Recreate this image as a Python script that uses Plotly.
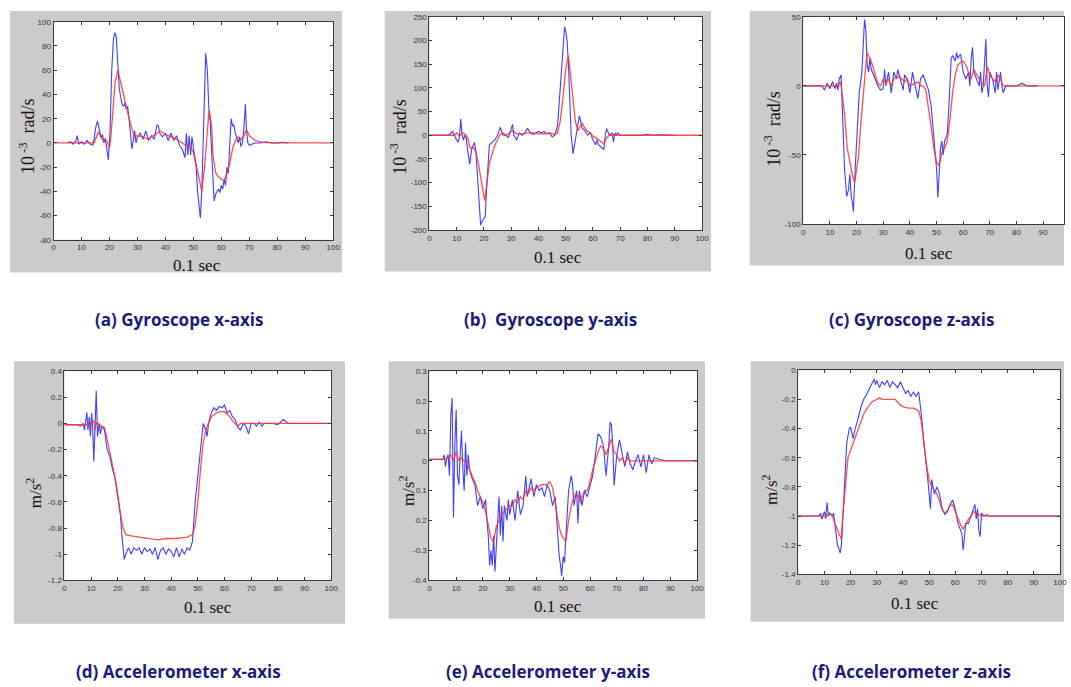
import plotly.graph_objects as go

# ---------------- data ----------------
x_ticks = [0, 10, 20, 30, 40, 50, 60, 70, 80, 90, 100]
x_ticktext = ["0", "10", "20", "30", "40", "50", "60", "70", "80", "90", "100"]

# (a) Gyroscope x-axis
gyro_x_raw = [(5,0),(6,1),(7,-1),(8,2),(8.5,6),(9,-1),(10,1),(11,-1),(12,2),(13,-1),(14,-2),(14.5,3),(15,12),(15.7,18),(16.5,10),(17,4),(17.5,7),(18,0),(18.5,4),(19,-4),(19.6,-14),(20.2,10),(20.8,60),(21.4,85),(21.9,91),(22.4,88),(23,60),(23.5,45),(24,38),(24.5,32),(25,30),(25.5,33),(26,28),(26.5,30),(27,20),(27.5,10),(28,-5),(28.5,2),(29,10),(29.5,0),(30,5),(31,8),(32,3),(33,10),(34,2),(35,6),(36,3),(37,15),(37.5,14),(38,8),(39,5),(40,8),(41,2),(42,8),(43,2),(44,6),(45,-2),(46,-5),(47,-12),(47.5,8),(48,-10),(48.5,6),(49,-10),(49.5,5),(50,-5),(50.5,-12),(51,-20),(51.5,-40),(52,-55),(52.5,-62),(53,-40),(53.5,0),(54,40),(54.4,74),(55,60),(55.5,30),(56,18),(56.5,-10),(57,-30),(57.4,-48),(58,-42),(59,-38),(59.5,-41),(60,-35),(60.5,-38),(61,-30),(61.5,-35),(62,-20),(62.5,-25),(63,0),(63.5,20),(64,14),(64.5,15),(65,8),(65.5,4),(66,0),(66.5,5),(67,-3),(67.5,0),(68,10),(68.6,32),(69,10),(69.5,0),(70,-2),(72,0),(74,0),(76,1),(78,0),(80,0),(82,0.5),(84,0)]
gyro_x_filt = [(0,0),(14.5,0),(15,3),(16,9),(17,5),(18,1),(19,2),(20,-4),(20.5,5),(21,20),(22,50),(23,60),(24,50),(25,38),(26,30),(27,20),(28,12),(29,5),(30,6),(32,5),(34,3),(35,5),(37,8),(38,10),(40,7),(42,5),(44,3),(46,0),(48,-3),(49,-3),(50,-8),(51,-18),(52,-30),(53,-40),(54,-20),(55,15),(55.6,27),(56.5,15),(57,-10),(58,-25),(59,-28),(60,-30),(61,-31),(62,-25),(63,-17),(64,-5),(65,2),(66,5),(67,3),(68,5),(69,11),(70,6),(72,2),(75,0.5),(78,0),(100,0)]
gyro_x_yticks = [-80, -60, -40, -20, 0, 20, 40, 60, 80, 100]
gyro_x_yticktext = ["-80", "-60", "-40", "-20", "0", "20", "40", "60", "80", "100"]

# (b) Gyroscope y-axis
gyro_y_raw = [(0,0),(7,0),(8,5),(8.5,9),(9.5,-5),(10.5,-15),(11,-5),(11.5,34),(12,0),(12.5,-10),(13,0),(13.5,-5),(14,-30),(14.8,-61),(15.5,-30),(16,-20),(16.5,-15),(17,-30),(17.5,-80),(18.2,-150),(18.8,-190),(19.5,-180),(20.5,-171),(21,-110),(21.5,-50),(22,-20),(23,-15),(24,-10),(25,0),(26,17),(27,0),(28,0),(29,-5),(30,15),(30.5,23),(31,0),(32,-10),(33,5),(34,0),(35,5),(36,15),(37,5),(38,2),(39,5),(40,8),(41,5),(42,8),(43,3),(44,5),(45,-3),(46,0),(47,20),(48,100),(49,170),(49.6,229),(50,220),(50.5,200),(51,150),(51.5,60),(52,0),(52.7,-39),(53.3,-20),(54,5),(55,41),(55.5,30),(56,15),(57,10),(58,0),(59,5),(60,-10),(61,-20),(61.5,-10),(62,-20),(63,-25),(64,-30),(64.5,0),(65,14),(66,0),(67,5),(67.5,-14),(68,5),(68.5,0),(69,5),(70,0),(72,0),(75,1),(78,0),(80,2),(82,0),(85,1),(88,0),(90,0)]
gyro_y_filt = [(0,0),(9,0),(10,5),(11,-2),(12,5),(13,3),(14,-5),(15,-27),(16,-25),(17,-35),(18,-60),(19,-100),(20,-130),(20.3,-138),(21,-100),(22,-60),(23,-40),(24,-20),(25,-10),(26,2),(27,5),(28,0),(29,3),(30.5,10),(32,3),(34,3),(36,5),(38,5),(40,3),(42,3),(44,5),(46,2),(47,5),(48,30),(49,80),(50,140),(51,168),(51.5,140),(52.5,80),(53.5,30),(54.5,10),(55.5,20),(56,26),(57,15),(58,8),(59,5),(60,-2),(61,-5),(62,-10),(63,-15),(64,-18),(65,-5),(66,0),(68,0),(100,0)]
gyro_y_yticks = [-200, -150, -100, -50, 0, 50, 100, 150, 200, 250]
gyro_y_yticktext = ["-200", "-150", "-100", "-50", "0", "50", "100", "150", "200", "250"]

# (c) Gyroscope z-axis
gyro_z_raw = [(0,0),(7,0),(8,-3),(9,2),(10,-2),(11,3),(12,-2),(12.5,2),(13,-3),(13.5,5),(14.2,8),(15,-30),(15.5,-60),(16.3,-80),(17,-75),(17.5,-64),(18,-80),(18.5,-85),(18.8,-91),(19.5,-60),(20,-40),(20.5,-20),(21,-5),(22,10),(22.5,25),(23,48),(23.5,40),(24,15),(24.5,10),(25,20),(25.5,12),(26,10),(27,5),(28,0),(29,-3),(30,-2),(30.5,12),(31,0),(32,10),(33,-5),(34,10),(35,5),(35.5,12),(36,8),(37,0),(37.5,-3),(38,8),(39,5),(40,-5),(40.5,5),(41,10),(42,0),(43,-9),(44,5),(45,8),(45.5,5),(46,2),(47,-3),(48,-15),(49,-35),(50,-60),(50.5,-81),(51,-60),(51.5,-45),(52,-40),(52.5,-50),(53,-40),(54,-35),(54.5,-20),(55,0),(55.5,20),(56,22),(57,18),(57.5,24),(58,20),(59,23),(59.5,15),(60,10),(61,5),(62,10),(62.5,0),(63,20),(63.5,28),(64,10),(65,5),(66,0),(66.5,10),(67,-5),(67.5,0),(68,20),(68.5,34),(69,0),(69.5,-8),(70,10),(71,5),(72,-5),(72.5,10),(73,-3),(74,10),(74.5,0),(75,-5),(76,0),(80,0),(82,2),(84,0),(88,0)]
gyro_z_filt = [(0,0),(13,0),(14,3),(15.5,-20),(16.5,-45),(17.5,-55),(18.5,-65),(19.3,-70),(20,-60),(20.8,-50),(21.5,-30),(22.5,-5),(23.3,15),(23.9,24),(25,20),(26,15),(27,8),(28,2),(29,0),(30,5),(31,2),(32,5),(33,0),(34,5),(36,7),(37,5),(38,3),(39,5),(40,0),(42,2),(43,3),(44,0),(45,0),(46,-3),(47,-15),(48,-30),(49,-45),(50,-55),(51,-58),(52,-48),(53,-45),(54,-40),(55,-25),(56,-5),(57,8),(58,15),(59,17),(60,18),(61,15),(62,10),(63,5),(64,12),(65,8),(66,5),(67,2),(68,0),(69,14),(70,8),(71,5),(72,3),(73,8),(74,5),(75,0),(100,0)]
gyro_z_yticks = [-100, -50, 0, 50]
gyro_z_yticktext = ["-100", "-50", "0", "50"]

# (d) Accelerometer x-axis
acc_x_raw = [(0,-0.01),(5,-0.01),(6,-0.02),(7,0),(7.5,-0.05),(8.4,0.085),(8.8,-0.05),(9.3,0.05),(9.7,-0.1),(10.2,0.08),(10.6,-0.05),(11,-0.29),(11.5,0),(11.9,0.25),(12.4,-0.1),(13,0),(13.5,-0.08),(14,-0.02),(15,-0.05),(16,-0.2),(17,-0.25),(18,-0.35),(19,-0.42),(20,-0.55),(21,-0.7),(21.5,-0.85),(22,-1.0),(22.4,-1.04),(23,-1.0),(24,-0.95),(25,-1.0),(26,-0.95),(27,-0.97),(28,-0.95),(29,-1.0),(30,-0.95),(31,-0.98),(32,-0.96),(33,-1.0),(34,-0.95),(35,-1.04),(36,-0.97),(37,-0.95),(38,-1.0),(39,-0.96),(40,-0.98),(41,-1.02),(42,-0.95),(43,-1.02),(44,-0.96),(45,-1.0),(46,-0.95),(47,-0.97),(48,-0.9),(49,-0.6),(50,-0.4),(51,-0.2),(52,0),(53,-0.05),(53.5,-0.1),(54,0),(55,0.08),(56,0.12),(57,0.1),(58,0.13),(59,0.12),(60,0.14),(61,0.08),(62,0.1),(63,0.05),(64,0.03),(65,-0.03),(66,-0.05),(67,0),(68,-0.02),(69,-0.08),(70,0),(71,0),(72,-0.02),(73,0.01),(74,-0.02),(75,0),(78,0),(80,-0.01),(82,0.03),(84,0),(88,0),(100,0)]
acc_x_filt = [(0,-0.01),(9,-0.01),(10,0.01),(11,0.02),(11.5,-0.05),(12,0.01),(13,-0.01),(14,-0.02),(15,-0.03),(16,-0.12),(17,-0.22),(18,-0.3),(19,-0.42),(20,-0.55),(21,-0.7),(22,-0.8),(23,-0.85),(25,-0.86),(28,-0.87),(32,-0.88),(35,-0.89),(38,-0.88),(42,-0.88),(46,-0.87),(48,-0.85),(49,-0.78),(50,-0.6),(51,-0.35),(52,-0.15),(53,-0.05),(54,0),(55,0.05),(57,0.08),(58,0.09),(60,0.09),(61,0.07),(62,0.05),(63,0.02),(64,0),(65,-0.02),(66,0),(68,0),(100,0)]
acc_x_yticks = [-1.2, -1.0, -0.8, -0.6, -0.4, -0.2, 0, 0.2, 0.4]
acc_x_yticktext = ["-1.2", "-1", "-0.8", "-0.6", "-0.4", "-0.2", "0", "0.2", "0.4"]

# (e) Accelerometer y-axis
acc_y_raw = [(0,0.005),(5,0.005),(5.5,0.02),(6,-0.02),(6.5,0.01),(7,0.02),(7.5,-0.05),(8,0.15),(8.5,0.21),(9,-0.19),(9.5,0.05),(10,0.17),(10.5,-0.05),(11,-0.08),(11.5,0.02),(12,0.1),(12.5,-0.03),(13,-0.1),(13.5,0.06),(14,-0.05),(14.5,0.02),(15,-0.03),(16,-0.06),(17,-0.08),(18,-0.15),(19,-0.12),(20,-0.16),(21,-0.13),(21.5,-0.2),(22,-0.25),(22.5,-0.35),(23,-0.3),(23.5,-0.35),(24,-0.25),(24.5,-0.37),(25,-0.28),(25.5,-0.2),(26,-0.12),(26.5,-0.25),(27,-0.15),(27.5,-0.27),(28,-0.15),(29,-0.2),(29.5,-0.13),(30,-0.18),(31,-0.13),(32,-0.2),(33,-0.1),(34,-0.18),(35,-0.15),(36,-0.05),(36.5,-0.12),(37,-0.1),(38,-0.06),(39,-0.12),(40,-0.08),(41,-0.1),(42,-0.09),(43,-0.12),(44,-0.08),(45,-0.1),(46,-0.15),(47,-0.12),(47.5,-0.2),(48,-0.28),(48.5,-0.32),(49,-0.35),(49.4,-0.385),(50,-0.32),(50.5,-0.34),(51,-0.25),(51.5,-0.18),(52,-0.1),(53,-0.05),(53.5,-0.08),(54,-0.15),(55,-0.1),(55.5,-0.21),(56,-0.1),(57,-0.15),(58,-0.1),(59,-0.12),(60,-0.08),(61,-0.05),(62,0.02),(62.5,0.06),(63,0.09),(64,0.08),(65,0.05),(65.5,0.0),(66,-0.05),(67,0.05),(67.5,0.13),(68,0.12),(68.5,0.05),(69,-0.083),(70,0.02),(71,0.07),(72,0.03),(73,-0.02),(74,0.03),(75,-0.01),(76,-0.03),(77,0),(78,0.02),(79,-0.02),(80,0.02),(81,-0.04),(82,0.02),(83,-0.01),(84,0.01),(88,0),(100,0)]
acc_y_filt = [(0,0.005),(6,0.005),(8,0.02),(9,0.0),(10,0.03),(11,0),(12,0.01),(13,0.0),(14,-0.01),(15,-0.03),(16,-0.05),(17,-0.07),(18,-0.1),(19,-0.12),(20,-0.14),(21,-0.17),(22,-0.22),(23,-0.26),(24,-0.272),(25,-0.22),(26,-0.2),(27,-0.18),(28,-0.17),(29,-0.16),(30,-0.15),(31,-0.15),(32,-0.13),(33,-0.14),(34,-0.12),(35,-0.13),(36,-0.1),(37,-0.11),(38,-0.09),(39,-0.1),(40,-0.09),(42,-0.08),(44,-0.08),(45,-0.07),(46,-0.09),(47,-0.14),(48,-0.2),(49,-0.24),(50,-0.26),(51,-0.27),(52,-0.2),(53,-0.15),(54,-0.12),(55,-0.11),(56,-0.13),(56.5,-0.14),(57,-0.12),(58,-0.1),(59,-0.1),(60,-0.07),(61,-0.03),(62,0.0),(63,0.03),(64,0.05),(65,0.04),(66,0.02),(67,0.05),(68,0.073),(69,0.03),(70,0.02),(71,0.0),(72,0.01),(73,-0.01),(74,0.01),(75,0.0),(80,0.0),(100,0)]
acc_y_yticks = [-0.4, -0.3, -0.2, -0.1, 0, 0.1, 0.2, 0.3]
acc_y_yticktext = ["-0.4", "-0.3", "0.2", "0.1", "0", "0.1", "0.2", "0.3"]

# (f) Accelerometer z-axis
acc_z_raw = [(0,-1.0),(8,-1.0),(8.5,-0.98),(9,-1.02),(10,-0.97),(10.5,-1.02),(11,-0.905),(11.5,-1.0),(12,-0.98),(13,-1.0),(13.5,-0.98),(14,-1.05),(14.5,-1.15),(15,-1.2),(15.5,-1.22),(16,-1.254),(16.5,-1.2),(17,-1.0),(17.5,-0.8),(18,-0.6),(18.5,-0.5),(19,-0.45),(19.5,-0.4),(20,-0.39),(20.5,-0.43),(21,-0.47),(21.5,-0.42),(22,-0.38),(23,-0.32),(24,-0.25),(25,-0.2),(26,-0.17),(27,-0.13),(28,-0.1),(29,-0.06),(29.5,-0.1),(30,-0.07),(31,-0.12),(32,-0.08),(33,-0.1),(34,-0.07),(35,-0.12),(36,-0.08),(37,-0.1),(38,-0.12),(39,-0.08),(40,-0.12),(41,-0.16),(42,-0.14),(43,-0.18),(44,-0.15),(45,-0.18),(46,-0.15),(47,-0.3),(48,-0.5),(49,-0.65),(49.5,-0.75),(50,-0.85),(50.5,-0.95),(51,-0.75),(52,-0.85),(53,-0.8),(54,-0.85),(55,-0.95),(56,-0.99),(57,-0.97),(58,-0.92),(59,-0.89),(60,-0.95),(61,-1.05),(62,-1.1),(62.5,-1.12),(63,-1.233),(64,-1.05),(65,-1.05),(66,-1.0),(67,-0.95),(67.5,-0.92),(68,-1.02),(68.5,-0.95),(69,-1.1),(69.5,-1.141),(70,-0.98),(71,-1.0),(72,-0.99),(73,-1.0),(100,-1.0)]
acc_z_filt = [(0,-1.0),(11,-1.0),(12,-0.98),(13,-1.0),(14,-1.05),(15,-1.1),(16,-1.15),(16.5,-1.16),(17,-1.0),(18,-0.8),(19,-0.6),(20,-0.55),(21,-0.5),(22,-0.45),(23,-0.4),(24,-0.35),(25,-0.3),(26,-0.27),(27,-0.24),(28,-0.22),(29,-0.21),(30,-0.2),(31,-0.19),(32,-0.2),(34,-0.2),(36,-0.2),(37,-0.2),(38,-0.22),(39,-0.24),(40,-0.25),(42,-0.26),(44,-0.26),(45,-0.27),(46,-0.28),(47,-0.35),(48,-0.5),(49,-0.65),(50,-0.75),(51,-0.8),(52,-0.82),(53,-0.85),(54,-0.9),(55,-0.96),(56,-0.98),(57,-0.96),(58,-0.93),(59,-0.92),(60,-0.97),(61,-1.02),(62,-1.06),(63,-1.09),(64,-1.05),(65,-1.02),(66,-1.0),(67,-0.97),(68,-0.98),(69,-0.99),(70,-1.0),(100,-1.0)]
acc_z_yticks = [-1.4, -1.2, -1.0, -0.8, -0.6, -0.4, -0.2, 0]
acc_z_yticktext = ["-1.4", "-1.2", "-1", "-0.8", "-0.6", "-0.4", "-0.2", "0"]

captions = ["(a) Gyroscope x-axis", "(b)  Gyroscope y-axis", "(c) Gyroscope z-axis",
            "(d) Accelerometer x-axis", "(e) Accelerometer y-axis", "(f) Accelerometer z-axis"]
gyro_unit = "10<sup> -3</sup>  rad/s"
acc_unit = "m/s<sup>2</sup>"
x_unit = "0.1 sec"

# ---------------- layout geometry (pixels) ----------------
W, H = 1071, 687
panels = [
    dict(raw=gyro_x_raw, filt=gyro_x_filt, yr=[-80, 100], yt=gyro_x_yticks, ytt=gyro_x_yticktext,
         gray=(8, 7, 343, 272), plot=(52, 18, 334, 239), xr=[0, 100],
         xt=(197, 265), ytl=(25, 134), ytitle=gyro_unit, ysz=18, cap=(178, 320)),
    dict(raw=gyro_y_raw, filt=gyro_y_filt, yr=[-200, 250], yt=gyro_y_yticks, ytt=gyro_y_yticktext,
         gray=(386, 7, 715, 271), plot=(431, 13, 706, 229), xr=[0, 100],
         xt=(561, 257), ytl=(400, 135), ytitle=gyro_unit, ysz=18, cap=(553, 320)),
    dict(raw=gyro_z_raw, filt=gyro_z_filt, yr=[-100, 50], yt=gyro_z_yticks, ytt=gyro_z_yticktext,
         gray=(754, 7, 1071, 265), plot=(808, 13, 1071, 223), xr=[0, 97.8],
         xt=(935, 253), ytl=(777, 126), ytitle=gyro_unit, ysz=18, cap=(917, 320)),
    dict(raw=acc_x_raw, filt=acc_x_filt, yr=[-1.2, 0.4], yt=acc_x_yticks, ytt=acc_x_yticktext,
         gray=(12, 362, 346, 628), plot=(63, 372, 332, 584), xr=[0, 100],
         xt=(208, 612), ytl=(32, 495), ytitle=acc_unit, ysz=17, cap=(178, 676)),
    dict(raw=acc_y_raw, filt=acc_y_filt, yr=[-0.4, 0.3], yt=acc_y_yticks, ytt=acc_y_yticktext,
         gray=(390, 362, 709, 623), plot=(431, 372, 701, 584), xr=[0, 100],
         xt=(561, 610), ytl=(408, 493), ytitle=acc_unit, ysz=17, cap=(551, 676)),
    dict(raw=acc_z_raw, filt=acc_z_filt, yr=[-1.4, 0], yt=acc_z_yticks, ytt=acc_z_yticktext,
         gray=(755, 362, 1071, 626), plot=(803, 371, 1067, 578), xr=[0, 100],
         xt=(921, 607), ytl=(774, 492), ytitle=acc_unit, ysz=17, cap=(917, 676)),
]

fig = go.Figure()
shapes = []
annotations = []
layout_axes = {}
tickfont = dict(family="Liberation Sans", size=8, color="#333333")

for i, p in enumerate(panels, start=1):
    sx = "" if i == 1 else str(i)
    xa, ya = "x" + sx, "y" + sx
    gx0, gy0, gx1, gy1 = p["gray"]
    px0, py0, px1, py1 = p["plot"]
    shapes.append(dict(type="rect", xref="paper", yref="paper", layer="below",
                       x0=gx0 / W, x1=gx1 / W, y0=1 - gy1 / H, y1=1 - gy0 / H,
                       fillcolor="#CBCBCB", line=dict(width=0)))
    shapes.append(dict(type="rect", xref="paper", yref="paper", layer="below",
                       x0=px0 / W, x1=px1 / W, y0=1 - py1 / H, y1=1 - py0 / H,
                       fillcolor="#FFFFFF", line=dict(width=0)))
    axcommon = dict(showline=True, linecolor="#3a3a3a", linewidth=1, mirror="ticks",
                    ticks="inside", ticklen=3, tickcolor="#3a3a3a", showgrid=False,
                    zeroline=False, tickfont=tickfont, fixedrange=True)
    layout_axes["xaxis" + sx] = dict(domain=[px0 / W, px1 / W], range=p["xr"], anchor=ya,
                                     tickvals=x_ticks, ticktext=x_ticktext, **axcommon)
    layout_axes["yaxis" + sx] = dict(domain=[1 - py1 / H, 1 - py0 / H], range=p["yr"], anchor=xa,
                                     tickvals=p["yt"], ticktext=p["ytt"], **axcommon)
    rx, ry = zip(*p["raw"])
    fx, fy = zip(*p["filt"])
    fig.add_trace(go.Scatter(x=rx, y=ry, mode="lines", xaxis=xa, yaxis=ya,
                             line=dict(color="#1f1fff", width=1.1), opacity=0.85,
                             showlegend=False, hoverinfo="skip"))
    fig.add_trace(go.Scatter(x=fx, y=fy, mode="lines", xaxis=xa, yaxis=ya,
                             line=dict(color="#ff3030", width=1.3), opacity=0.85,
                             showlegend=False, hoverinfo="skip"))
    annotations.append(dict(text=x_unit, xref="paper", yref="paper",
                            x=p["xt"][0] / W, y=1 - p["xt"][1] / H, showarrow=False,
                            xanchor="center", yanchor="middle",
                            font=dict(family="Liberation Serif", size=17, color="#111111")))
    annotations.append(dict(text=p["ytitle"], xref="paper", yref="paper", textangle=-90,
                            x=p["ytl"][0] / W, y=1 - p["ytl"][1] / H, showarrow=False,
                            xanchor="center", yanchor="middle",
                            font=dict(family="Liberation Serif", size=p["ysz"], color="#111111")))
    annotations.append(dict(text="<b>" + captions[i - 1] + "</b>", xref="paper", yref="paper",
                            x=p["cap"][0] / W, y=1 - p["cap"][1] / H, showarrow=False,
                            xanchor="center", yanchor="middle",
                            font=dict(family="Open Sans", size=17, color="#1c1c7c")))

fig.update_layout(width=W, height=H, margin=dict(l=0, r=0, t=0, b=0),
                  paper_bgcolor="#FFFFFF", plot_bgcolor="rgba(0,0,0,0)",
                  shapes=shapes, annotations=annotations, showlegend=False,
                  **layout_axes)
fig.write_html("out.html", config={"displayModeBar": False},
               post_script="document.body.style.margin='0';document.body.style.overflow='hidden';")
